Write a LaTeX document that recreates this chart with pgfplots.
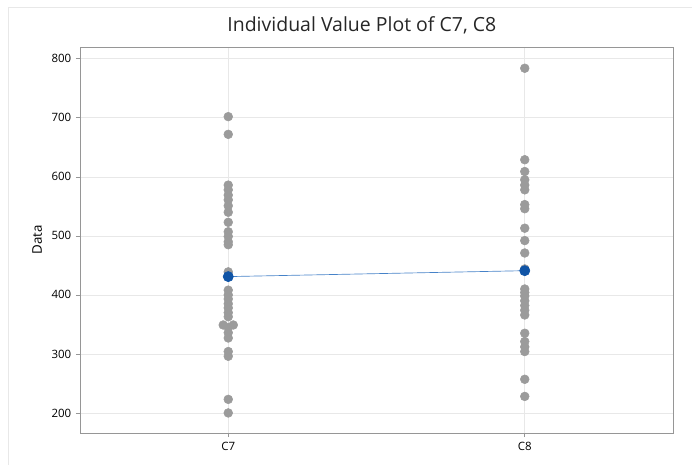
\documentclass[border=0pt]{standalone}
\usepackage{pgfplots}
\pgfplotsset{compat=1.18}
\usepackage{fontspec}
\setmainfont{Open Sans}
\definecolor{dotgray}{RGB}{155,155,155}
\definecolor{meanblue}{RGB}{16,84,166}
\definecolor{linebl}{RGB}{70,130,200}
\definecolor{gridgray}{RGB}{232,232,232}
\definecolor{framegray}{RGB}{150,150,150}
\begin{document}
\begin{tikzpicture}
\path[use as bounding box] (-60pt,-24pt) rectangle (459pt,324.75pt);
\draw[gridgray, line width=0.6pt] (-54pt,-24pt) -- (-54pt,319pt) -- (459pt,319pt);
\begin{axis}[
  scale only axis,
  width=444.75pt, height=289.5pt,
  xmin=0.5, xmax=2.5,
  ymin=166, ymax=820,
  xtick={1,2}, xticklabels={C7,C8},
  ytick={200,300,400,500,600,700,800},
  grid=major,
  major grid style={gridgray, line width=0.5pt},
  axis line style={framegray, line width=0.6pt},
  tick style={framegray, line width=0.5pt},
  tick align=outside,
  major tick length=3pt,
  xtick pos=bottom, ytick pos=left,
  /pgf/number format/assume math mode=true,
  tick label style={font=\fontsize{8.6}{10}\selectfont, text=black},
  title={Individual Value Plot of C7, C8},
  title style={font=\fontsize{14.6}{17}\selectfont, text=black!85, yshift=0pt, xshift=-11pt},
  ylabel={Data},
  ylabel style={at={(axis description cs:-0.072,0.5)}, anchor=center, font=\fontsize{10}{12}\selectfont, text=black},
  clip=false,
]
% C7
\addplot[only marks, mark=*, mark size=3.3pt, color=dotgray, mark options={draw=dotgray, fill=dotgray}] coordinates {
 (1,702) (1,672) (1,586) (1,578) (1,569) (1,561) (1,551) (1,540) (1,523)
 (1,507) (1,499) (1,490) (1,485) (1,439)
 (1,408) (1,400) (1,393) (1,385) (1,378) (1,370) (1,363)
 (0.983,349) (1,345) (1.017,349)
 (1,336) (1,327) (1,304) (1,296) (1,223) (1,200)
};
% C8
\addplot[only marks, mark=*, mark size=3.3pt, color=dotgray, mark options={draw=dotgray, fill=dotgray}] coordinates {
 (2,784) (2,629) (2,609) (2,595) (2,586) (2,578) (2,553) (2,546) (2,513)
 (2,492) (2,471) (2,444)
 (2,410) (2,404) (2,398) (2,390) (2,382) (2,374) (2,366)
 (2,335) (2,321) (2,312) (2,304) (2,257) (2,228)
};
% means
\addplot[color=linebl, line width=0.5pt, mark=*, mark size=3.8pt, mark options={fill=meanblue, draw=meanblue}] coordinates {
 (1,431) (2,441)
};
\end{axis}
\end{tikzpicture}
\end{document}
